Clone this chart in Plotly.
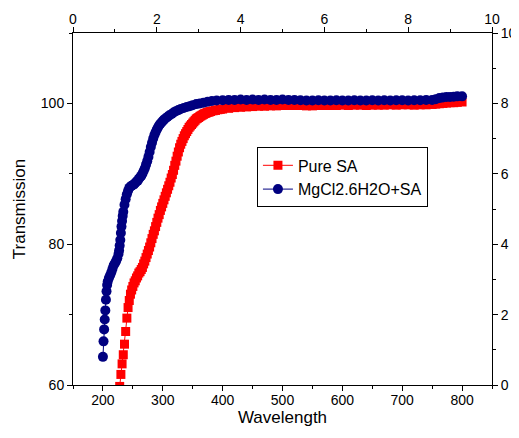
import plotly.graph_objects as go

# Pure SA
pure_wl = [228, 230, 232, 234, 236, 238, 240, 242, 244, 246, 248, 250, 252, 254, 256, 258, 260, 262,
           264, 266, 268, 270, 272, 274, 276, 278, 280, 282, 284, 286, 288, 290, 292, 294, 296, 298,
           300, 302, 304, 306, 308, 310, 312, 314, 316, 318, 320, 322, 324, 326, 328, 330, 332, 334,
           336, 338, 340, 342, 344, 346, 348, 350, 352, 354, 356, 358, 360, 362, 364, 366, 368, 370,
           372, 374, 376, 378, 380, 384, 388, 392, 396,
           400, 410, 420, 430, 440, 450, 460, 470, 480, 490, 500, 510, 520, 530, 540, 550, 560, 570,
           580, 590, 600, 610, 620, 630, 640, 650, 660, 670, 680, 690, 700, 710, 720, 730, 740, 750,
           756, 762, 768, 774, 780, 786, 792, 800]
pure_t = [59.8, 61.5, 63.0, 64.3, 65.8, 67.6, 69.5, 71.0, 72.0, 72.9, 73.5, 74.0, 74.5, 74.8, 75.2,
          75.5, 75.9, 76.1, 76.4, 76.7, 77.2, 77.6, 78.1, 78.6, 79.1, 79.6, 80.2, 80.8, 81.4, 81.9,
          82.5, 83.1, 83.7, 84.2, 84.8, 85.3, 85.8, 86.3, 86.8, 87.3, 87.8, 88.3, 88.8, 89.4, 89.9,
          90.5, 91.2, 91.8, 92.5, 93.1, 93.7, 94.2, 94.6, 95.0, 95.4, 95.7, 96.0, 96.3, 96.6, 96.8,
          97.0, 97.2, 97.4, 97.6, 97.8, 97.9, 98.0, 98.15, 98.25, 98.35, 98.45, 98.55, 98.6, 98.7,
          98.75, 98.8, 98.85, 98.95, 99.0, 99.1, 99.15,
          99.2, 99.3, 99.4, 99.45, 99.5, 99.55, 99.6, 99.6, 99.65, 99.65, 99.7, 99.7, 99.7, 99.7,
          99.65, 99.65, 99.7, 99.7, 99.7, 99.7, 99.75, 99.7, 99.75, 99.75, 99.7, 99.75, 99.75, 99.75,
          99.8, 99.75, 99.8, 99.8, 99.75, 99.8, 99.8, 99.85, 99.9, 99.95, 100.0, 100.05, 100.1,
          100.1, 100.15, 100.2]

# MgCl2.6H2O+SA
mg_wl = [200, 201, 202, 203, 204, 205, 206, 207, 208, 210, 212, 214, 216, 218, 220, 222, 224, 226,
         227, 228, 229, 230, 231, 232, 233, 234, 236, 238, 240, 242, 244, 246, 248, 250, 252, 254,
         256, 258, 260, 262, 264, 266, 268, 270, 272, 274, 276, 278, 280, 282, 284, 286, 288, 290,
         292, 294, 296, 298, 300, 302, 305, 308, 311, 315, 318, 322, 326, 330, 335, 340, 345, 350,
         356, 362, 368, 375, 382, 390,
         400, 410, 420, 430, 440, 450, 460, 470, 480, 490, 500, 510, 520, 530, 540, 550, 560, 570,
         580, 590, 600, 610, 620, 630, 640, 650, 660, 670, 680, 690, 700, 710, 720, 730, 740, 750,
         756, 762, 768, 774, 780, 786, 792, 800]
mg_t = [64.0, 66.2, 67.9, 69.3, 70.6, 72.1, 73.3, 74.2, 74.7, 75.2, 75.6, 76.0, 76.5, 77.0, 77.3,
        77.6, 78.0, 78.6, 79.1, 79.8, 80.6, 81.6, 82.5, 83.3, 84.0, 84.6, 85.6, 86.4, 87.1, 87.6,
        88.0, 88.2, 88.3, 88.4, 88.5, 88.7, 88.9, 89.0, 89.3, 89.5, 89.7, 90.0, 90.4, 90.8, 91.3,
        91.8, 92.4, 93.1, 93.8, 94.4, 95.0, 95.5, 95.9, 96.3, 96.6, 96.9, 97.1, 97.3, 97.5, 97.7,
        97.9, 98.1, 98.3, 98.5, 98.7, 98.9, 99.05, 99.2, 99.35, 99.5, 99.6, 99.75, 99.9, 100.0,
        100.1, 100.25, 100.35, 100.4,
        100.45, 100.5, 100.5, 100.55, 100.5, 100.55, 100.5, 100.55, 100.5, 100.5, 100.55, 100.5,
        100.5, 100.45, 100.4, 100.4, 100.45, 100.4, 100.4, 100.45, 100.4, 100.4, 100.45, 100.4,
        100.4, 100.45, 100.4, 100.45, 100.4, 100.45, 100.45, 100.4, 100.45, 100.45, 100.5, 100.5,
        100.6, 100.75, 100.85, 100.9, 100.9, 100.95, 101.0, 101.0]

RED = "#ff0000"
NAVY = "#000080"
FONT = "Liberation Sans, Arial, sans-serif"

fig = go.Figure()
fig.add_trace(go.Scatter(x=pure_wl, y=pure_t, mode="lines+markers", name="Pure SA",
                         line=dict(color=RED, width=1),
                         marker=dict(symbol="square", size=9, color=RED)))
fig.add_trace(go.Scatter(x=mg_wl, y=mg_t, mode="lines+markers", name="MgCl2.6H2O+SA",
                         line=dict(color=NAVY, width=1),
                         marker=dict(symbol="circle", size=10, color=NAVY)))
# invisible trace to activate the top/right axes
fig.add_trace(go.Scatter(x=[0], y=[0], xaxis="x2", yaxis="y2", mode="markers",
                         marker=dict(opacity=0), showlegend=False, hoverinfo="skip"))

axis_common = dict(showgrid=False, zeroline=False, showline=True, linecolor="black", linewidth=1,
                   ticks="outside", ticklen=5, tickwidth=1, tickcolor="black", automargin=False,
                   tickfont=dict(family=FONT, size=14, color="black"))
minor_common = dict(ticks="outside", ticklen=3, tickwidth=1, tickcolor="black")

# the page body adds an 8px offset; figure size/margins compensate for it
fig.update_layout(
    width=511, height=430,
    margin=dict(l=65, r=27, t=25, b=53),
    paper_bgcolor="white", plot_bgcolor="white",
    xaxis=dict(range=[150, 850], tickvals=[200, 300, 400, 500, 600, 700, 800],
               minor=dict(tickvals=[150, 250, 350, 450, 550, 650, 750, 850], **minor_common),
               title=dict(text="Wavelength", font=dict(family=FONT, size=17, color="black"),
                          standoff=0),
               ticklabelstandoff=-3,
               **axis_common),
    yaxis=dict(range=[60, 110], tickvals=[60, 80, 100],
               minor=dict(tickvals=[70, 90, 110], **minor_common),
               title=dict(text="Transmission", font=dict(family=FONT, size=17, color="black"),
                          standoff=10),
               **axis_common),
    xaxis2=dict(range=[0, 10], overlaying="x", side="top", tickvals=[0, 2, 4, 6, 8, 10],
                minor=dict(tickvals=[1, 3, 5, 7, 9], **minor_common),
                ticklabelstandoff=-3,
                **axis_common),
    yaxis2=dict(range=[0, 10], overlaying="y", side="right", tickvals=[0, 2, 4, 6, 8, 10],
                minor=dict(tickvals=[1, 3, 5, 7, 9], **minor_common),
                **axis_common),
    legend=dict(x=0.439, y=0.675, xanchor="left", yanchor="top",
                bgcolor="white", bordercolor="black", borderwidth=1,
                font=dict(family=FONT, size=16, color="black"),
                tracegroupgap=0, itemwidth=30),
    showlegend=True,
)

fig.write_html("out.html")
